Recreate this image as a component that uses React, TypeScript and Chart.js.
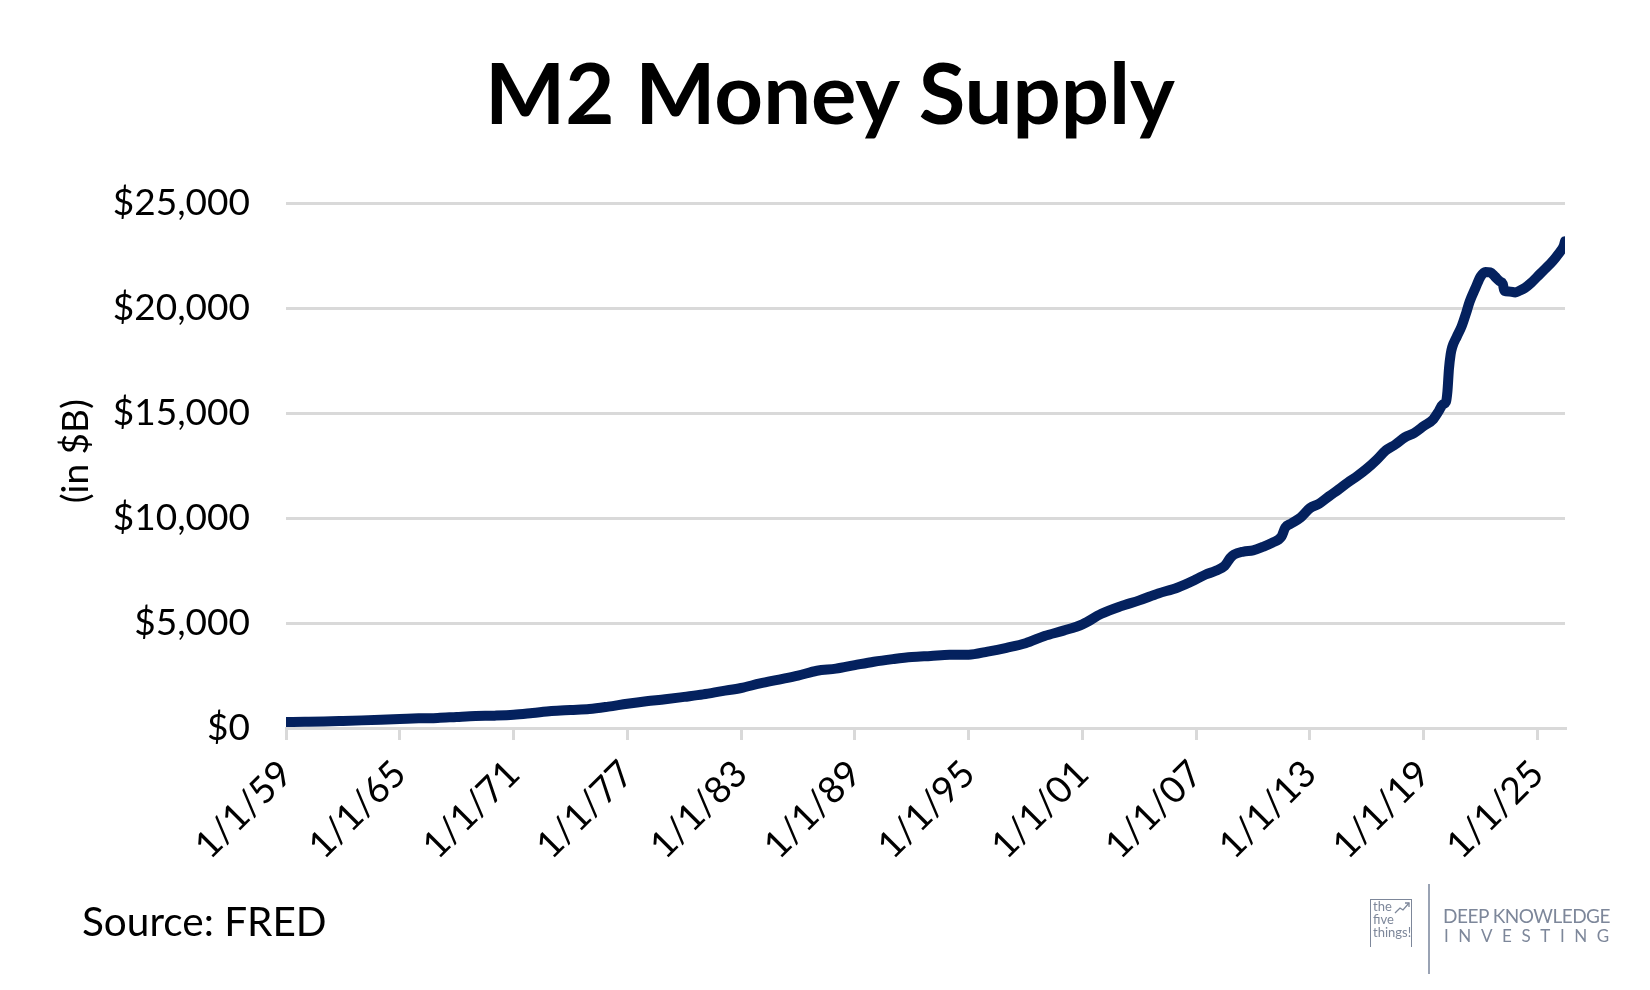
import { useEffect, useRef } from "react";
import Chart from "chart.js/auto";

// M2 money supply, $ billions (decimal year -> value)
const dates = [
  1959, 1960, 1961, 1962, 1963, 1964, 1965, 1966, 1967, 1968, 1969, 1970,
  1971, 1972, 1973, 1974, 1975, 1976, 1977, 1978, 1979, 1980, 1981, 1982,
  1983, 1984, 1985, 1986, 1987, 1988, 1989, 1990, 1991, 1992, 1993, 1994,
  1995, 1996, 1997, 1998, 1999, 2000, 2001, 2002, 2003, 2004, 2005, 2006,
  2007, 2007.5, 2008, 2008.5, 2008.8, 2009, 2009.5, 2010, 2010.5, 2011,
  2011.5, 2011.7, 2012, 2012.5, 2013, 2013.5, 2014, 2014.5, 2015, 2015.5,
  2016, 2016.5, 2017, 2017.5, 2018, 2018.5, 2019, 2019.5, 2019.8, 2020,
  2020.17, 2020.25, 2020.33, 2020.42, 2020.5, 2020.75, 2021, 2021.25,
  2021.42, 2021.75, 2022, 2022.25, 2022.5, 2022.75, 2023, 2023.17, 2023.25,
  2023.5, 2023.83, 2024, 2024.33, 2024.67, 2025, 2025.33, 2025.67, 2026,
  2026.25, 2026.38, 2026.45,
];

const m2Values = [
  287, 298, 312, 336, 363, 393, 425, 459, 480, 525, 567, 588,
  628, 713, 805, 856, 903, 1016, 1152, 1270, 1367, 1481, 1600, 1756,
  1905, 2124, 2306, 2492, 2728, 2826, 2994, 3156, 3279, 3380, 3432, 3487,
  3492, 3640, 3820, 4035, 4381, 4636, 4936, 5437, 5791, 6077, 6405, 6681,
  7082, 7310, 7473, 7720, 8100, 8260, 8400, 8460, 8620, 8820,
  9120, 9550, 9730, 10020, 10470, 10690, 11030, 11350, 11690, 12000,
  12350, 12760, 13220, 13500, 13840, 14050, 14380, 14700, 15100, 15400,
  15520, 16030, 17100, 17800, 18130, 18650, 19130, 19800,
  20300, 21000, 21500, 21720, 21700, 21500, 21280, 21150, 20820,
  20790, 20740, 20800, 20950, 21200, 21500, 21800, 22100, 22450,
  22750, 22950, 23180,
];

const tickYears = [1959, 1965, 1971, 1977, 1983, 1989, 1995, 2001, 2007, 2013, 2019, 2025];

const FONT = "Lato, 'Open Sans', sans-serif";
const GRID = "#d9d9d9";
const LINE = "#04215e";
const LOGO = "#7d879a";

const M2Chart = () => {
  const chartRef = useRef<HTMLCanvasElement>(null);

  useEffect(() => {
    if (!chartRef.current) return;
    const chart = new Chart(chartRef.current, {
      type: "line",
      data: {
        datasets: [
          {
            label: "M2",
            data: dates.map((d, i) => ({ x: d, y: m2Values[i] })),
            borderColor: LINE,
            borderWidth: 10,
            borderCapStyle: "round",
            borderJoinStyle: "round",
            cubicInterpolationMode: "monotone",
            pointRadius: 0,
            fill: false,
          },
        ],
      },
      options: {
        animation: false,
        responsive: true,
        maintainAspectRatio: false,
        layout: { padding: { left: 28, right: 85, top: 203, bottom: 0 } },
        plugins: {
          legend: { display: false },
          tooltip: { enabled: false },
        },
        scales: {
          x: {
            type: "linear",
            min: 1959,
            max: 2026.45,
            afterBuildTicks: (scale: any) => {
              scale.ticks = tickYears.map((v) => ({ value: v }));
            },
            afterFit: (scale: any) => {
              scale.height = 262;
            },
            ticks: {
              autoSkip: false,
              minRotation: 45,
              maxRotation: 45,
              padding: 12,
              color: "#000",
              font: { family: FONT, size: 37 },
              callback: (value: any) => "1/1/" + String(value).slice(2),
            },
            grid: {
              drawOnChartArea: false,
              drawTicks: true,
              tickLength: 12,
              color: GRID,
              lineWidth: 3,
            },
            border: { display: true, color: GRID, width: 3 },
          },
          y: {
            min: 0,
            max: 25000,
            afterFit: (scale: any) => {
              scale.width = 258;
            },
            ticks: {
              stepSize: 5000,
              padding: 36,
              color: "#000",
              font: { family: FONT, size: 37 },
              callback: (value: any) => "$" + Number(value).toLocaleString("en-US"),
            },
            grid: { color: GRID, lineWidth: 3, drawTicks: false },
            border: { display: false },
            title: {
              display: true,
              // leading spaces lift the centred label a little, as in the source
              text: "\u00a0\u00a0\u00a0(in $B)",
              color: "#000",
              font: { family: FONT, size: 37 },
              padding: { top: 26, bottom: 0 },
            },
          },
        },
      },
    });
    return () => chart.destroy();
  }, []);

  return <canvas ref={chartRef} />;
};

export default function App() {
  return (
    <div
      style={{
        position: "fixed",
        left: 0,
        top: 0,
        width: 1650,
        height: 990,
        background: "#fff",
        overflow: "hidden",
        fontFamily: FONT,
      }}
    >
      <div style={{ position: "absolute", left: 0, top: 0, width: 1650, height: 990 }}>
        <M2Chart />
      </div>
      <div
        style={{
          position: "absolute",
          left: 0,
          top: 49,
          width: 1660,
          textAlign: "center",
          fontSize: 85,
          lineHeight: 1,
          fontWeight: 700,
          color: "#000",
        }}
      >
        M2 Money Supply
      </div>
      <div
        style={{
          position: "absolute",
          left: 82,
          top: 901,
          fontSize: 40.5,
          lineHeight: 1,
          color: "#000",
        }}
      >
        Source: FRED
      </div>
      {/* logo */}
      <div
        style={{
          position: "absolute",
          left: 1370,
          top: 899,
          width: 42,
          height: 48,
          borderLeft: `1px solid ${LOGO}`,
          borderTop: `1px solid ${LOGO}`,
          borderRight: `1px solid ${LOGO}`,
          color: LOGO,
          fontSize: 13,
          lineHeight: "13px",
          paddingLeft: 2,
          boxSizing: "border-box",
        }}
      >
        <div>the</div>
        <div>five</div>
        <div>things!</div>
        <svg
          width="16"
          height="14"
          style={{ position: "absolute", right: 1, top: 1 }}
          viewBox="0 0 16 14"
        >
          <polyline points="1,12 6,7 9,9 15,2" fill="none" stroke={LOGO} strokeWidth="1.3" />
          <polyline points="11,2 15,2 15,6" fill="none" stroke={LOGO} strokeWidth="1.3" />
        </svg>
      </div>
      <div
        style={{
          position: "absolute",
          left: 1428,
          top: 884,
          width: 2,
          height: 90,
          background: "#9aa3b4",
        }}
      />
      <div
        style={{
          position: "absolute",
          left: 1443,
          top: 906,
          fontSize: 19,
          lineHeight: 1,
          color: LOGO,
          letterSpacing: -0.5,
          whiteSpace: "nowrap",
        }}
      >
        DEEP KNOWLEDGE
      </div>
      <div
        style={{
          position: "absolute",
          left: 1444,
          top: 927,
          fontSize: 17,
          lineHeight: 1,
          color: LOGO,
          letterSpacing: 9.6,
          whiteSpace: "nowrap",
        }}
      >
        INVESTING
      </div>
    </div>
  );
}
